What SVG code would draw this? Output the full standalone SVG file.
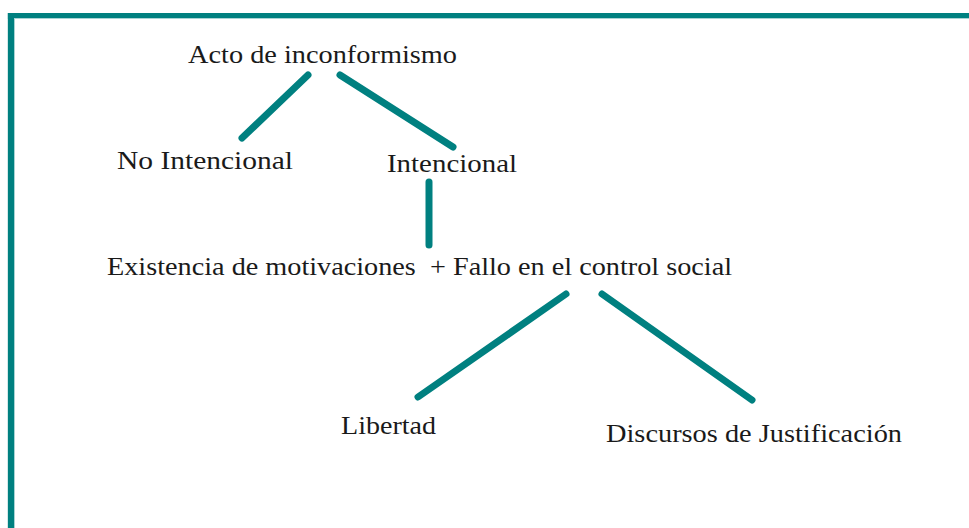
<svg xmlns="http://www.w3.org/2000/svg" width="969" height="528" viewBox="0 0 969 528">
<style>
.lbl{font-family:"Liberation Serif","Times New Roman",serif;font-size:26px;fill:#1a1a1a;white-space:pre}
.con line{stroke:#008080;stroke-width:7;stroke-linecap:round}
</style>
<rect width="969" height="528" fill="#fff"/>
<g id="frame">
<rect x="7.5" y="13" width="961.5" height="6" fill="#a8d4d4"/>
<rect x="7.5" y="13" width="7.5" height="515" fill="#a8d4d4"/>
<rect x="8" y="13" width="961" height="5" fill="#008080"/>
<rect x="8" y="13" width="6" height="515" fill="#008080"/>
</g>
<g id="connectors" class="con">
<line x1="308" y1="75" x2="242" y2="138"/>
<line x1="340" y1="75" x2="453" y2="147"/>
<line x1="429" y1="182" x2="429" y2="245"/>
<line x1="566" y1="294" x2="418" y2="397"/>
<line x1="602" y1="294" x2="752" y2="400"/>
</g>
<g id="n-acto"><text class="lbl" x="188" y="63" textLength="269" lengthAdjust="spacingAndGlyphs">Acto de inconformismo</text></g>
<g id="n-no-intencional"><text class="lbl" x="117" y="169" textLength="176" lengthAdjust="spacingAndGlyphs">No Intencional</text></g>
<g id="n-intencional"><text class="lbl" x="387" y="172" textLength="130" lengthAdjust="spacingAndGlyphs">Intencional</text></g>
<g id="n-existencia"><text class="lbl" x="107" y="275" textLength="625" lengthAdjust="spacingAndGlyphs">Existencia de motivaciones  + Fallo en el control social</text></g>
<g id="n-libertad"><text class="lbl" x="341" y="434" textLength="95" lengthAdjust="spacingAndGlyphs">Libertad</text></g>
<g id="n-discursos"><text class="lbl" x="606" y="442" textLength="296" lengthAdjust="spacingAndGlyphs">Discursos de Justificación</text></g>
</svg>
